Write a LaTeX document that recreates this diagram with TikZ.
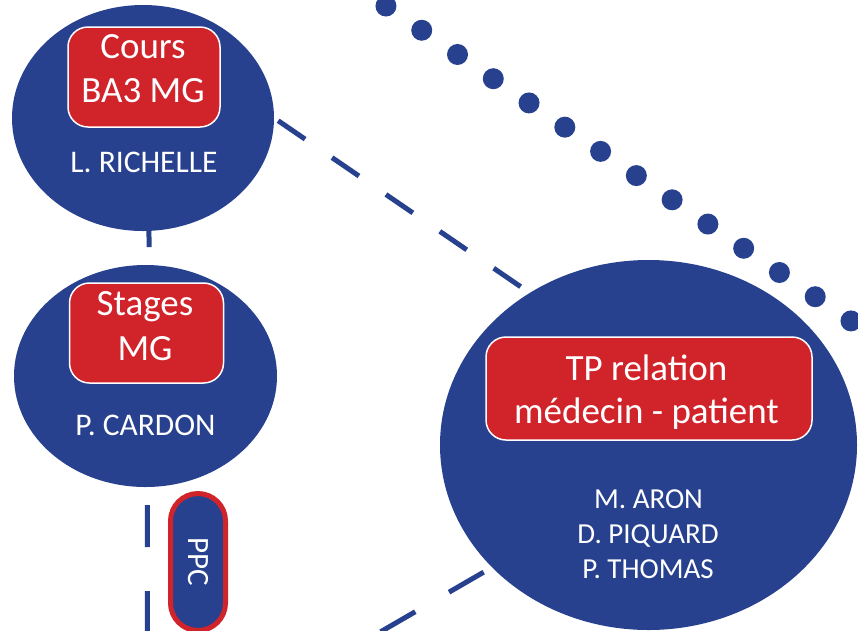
\documentclass[tikz,border=0pt]{standalone}
\usepackage{fontspec}
\setmainfont{Carlito}
\usetikzlibrary{shapes.geometric,backgrounds}
\definecolor{dblue}{HTML}{27418F}
\definecolor{dred}{HTML}{D1232A}
\tikzset{
  bubble/.style={ellipse, fill=dblue, draw=none, inner sep=0pt},
  tag/.style={fill=dred, draw=white, line width=1.5pt, rounded corners=20pt, inner sep=0pt},
  title/.style={anchor=base, text=white, font=\fontsize{37}{44}\selectfont, inner sep=0pt},
  who/.style={anchor=base, text=white, font=\fontsize{29}{35}\selectfont, inner sep=0pt},
  whobig/.style={who, font=\fontsize{31.5}{37}\selectfont},
  link/.style={draw=dblue, line width=5pt},
  dots/.style={draw=dblue, line width=21pt, line cap=round, dash pattern=on 0pt off 43.2pt},
  pill/.style={fill=dblue, draw=dred, line width=5pt, rounded corners=27.5pt, inner sep=0pt,
               text=white, font=\fontsize{31}{37}\selectfont}
}
\begin{document}
\begin{tikzpicture}[x=1pt,y=-1pt]
\useasboundingbox (0,0) rectangle (858,630);
\clip (0,0) rectangle (858,630);

% bubbles
\node[bubble, minimum width=262pt, minimum height=226pt] (e1) at (143,118) {};
\node[bubble, minimum width=263pt, minimum height=222pt] (e2) at (145.5,376) {};
\node[bubble, minimum width=417pt, minimum height=370pt] (e3) at (648.5,445) {};

% red tags
\node[tag, minimum width=152pt, minimum height=100pt] (t1) at (144,77) {};
\node[tag, minimum width=154pt, minimum height=100pt] (t2) at (146.5,333) {};
\node[tag, minimum width=326pt, minimum height=103pt] (t3) at (649,388.5) {};

% titles
\node[title] (t1a) at (143,58) {Cours};
\node[title] (t1b) at (143,102) {BA3 MG};
\node[title] (t2a) at (145,315) {Stages};
\node[title] (t2b) at (145,360) {MG};
\node[title] (t3a) at (646.5,380) {TP relation};
\node[title] (t3b) at (646.5,423) {médecin - patient};

% names
\node[whobig] (n1) at (144,172) {L. RICHELLE};
\node[whobig] (n2) at (145.5,435) {P. CARDON};
\node[who] (n3a) at (648.5,508) {M. ARON};
\node[who] (n3b) at (648,543) {D. PIQUARD};
\node[who] (n3c) at (648,578) {P. THOMAS};

% PPC pill
\node[pill, rotate=-90, minimum width=137pt, minimum height=55pt] (ppc) at (198,562) {PPC};

% free ends
\coordinate (vb) at (147.5,645);
\coordinate (bl) at (337,657);
\coordinate (d0) at (350.2,-18.2);
\coordinate (d1) at (886.8,345.2);

\begin{pgfonlayer}{background}
  \draw[link, dash pattern=on 16pt off 60pt] (e1.-87) -- (e2.88);
  \draw[link, dash pattern=on 42pt off 44pt, dash phase=68pt] (e2.-89) -- (vb);
  \draw[link, dash pattern=on 32.6pt off 32.7pt, dash phase=60.5pt] (e1.east) -- (e3.128);
  \draw[link, dash pattern=on 40pt off 39pt, dash phase=69.5pt] (e3.218) -- (bl);
  \draw[dots] (d0) -- (d1);
\end{pgfonlayer}
\end{tikzpicture}
\end{document}
